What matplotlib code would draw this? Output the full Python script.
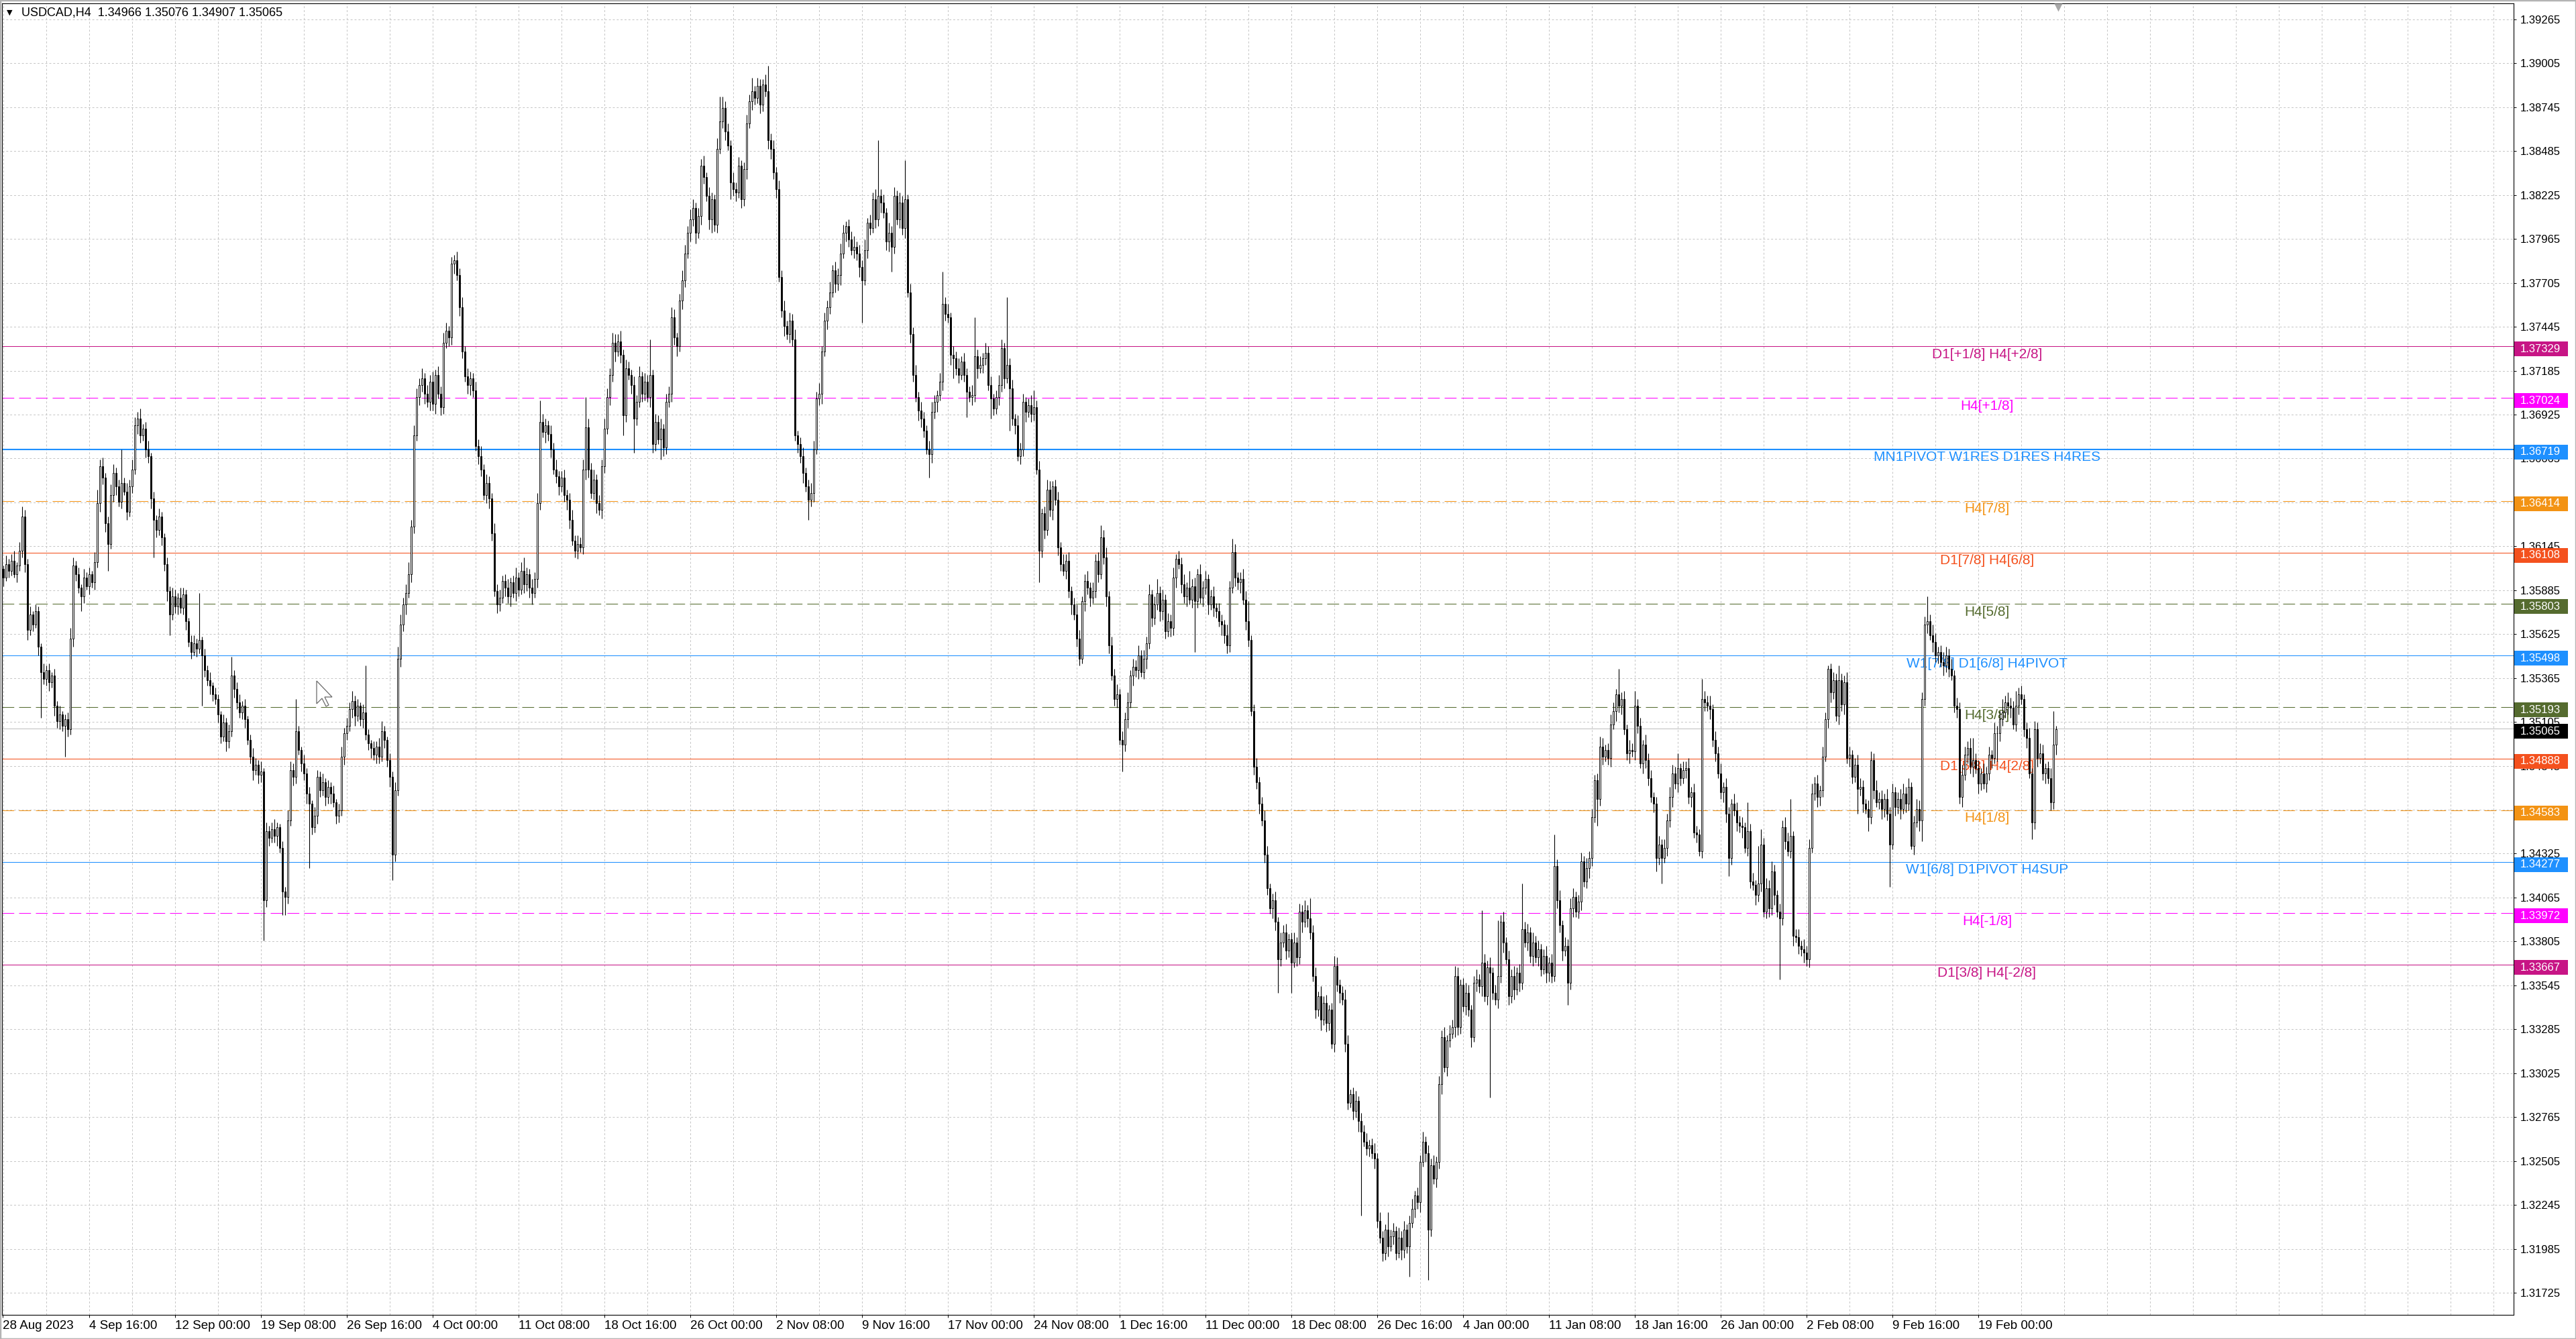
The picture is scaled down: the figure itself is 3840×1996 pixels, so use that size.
import numpy as np
import matplotlib
matplotlib.use("Agg")
import matplotlib.pyplot as plt
from matplotlib.patches import Rectangle, Polygon
from matplotlib.transforms import blended_transform_factory

plt.rcParams['font.family'] = ['Liberation Sans', 'DejaVu Sans']

W, H = 3840, 1996

title_text = "USDCAD,H4  1.34966 1.35076 1.34907 1.35065"
last_price = 1.35065

# H4 closes, in pips above 1.3000
first_open = 600
closes = [
    598, 601, 596, 604, 600, 606, 598, 603, 612, 632,
    604, 565, 574, 568, 576, 555, 540, 536, 541, 534,
    538, 520, 511, 515, 508, 512, 506, 560, 603, 598,
    590, 585, 596, 591, 598, 593, 605, 640, 662, 655,
    628, 616, 645, 658, 650, 641, 652, 647, 635, 650,
    660, 686, 690, 680, 684, 672, 668, 643, 630, 624,
    632, 620, 604, 588, 574, 585, 579, 584, 578, 586,
    570, 558, 552, 557, 554, 559, 550, 541, 535, 532,
    527, 524, 515, 502, 510, 499, 505, 538, 530, 522,
    516, 520, 512, 500, 490, 482, 485, 479, 481, 405,
    446, 442, 447, 443, 448, 436, 410, 407, 452, 482,
    478, 505, 494, 486, 480, 468, 462, 448, 455, 478,
    470, 475, 466, 472, 468, 463, 455, 458, 490, 504,
    508, 518, 523, 514, 520, 512, 516, 503, 498, 495,
    491, 496, 490, 505, 500, 488, 478, 432, 470, 548,
    568, 580, 587, 598, 626, 680, 703, 710, 714, 705,
    700, 712, 699, 716, 705, 697, 735, 742, 738, 782,
    784, 775, 756, 730, 715, 710, 714, 707, 674, 668,
    660, 645, 652, 643, 622, 588, 580, 584, 594, 590,
    585, 593, 587, 596, 589, 600, 592, 598, 590, 587,
    595, 640, 688, 682, 686, 681, 672, 660, 656, 650,
    655, 645, 642, 630, 618, 612, 616, 614, 660, 685,
    660, 646, 654, 640, 636, 662, 684, 703, 716, 735,
    730, 736, 728, 692, 720, 716, 710, 690, 700, 715,
    705, 712, 703, 716, 675, 688, 678, 684, 673, 700,
    705, 750, 738, 733, 760, 772, 788, 800, 808, 815,
    800, 810, 840, 833, 822, 808, 820, 805, 850, 866,
    874, 860, 852, 830, 826, 824, 840, 820, 838, 865,
    878, 884, 880, 887, 876, 888, 884, 855, 850, 836,
    826, 774, 754, 745, 740, 748, 737, 680, 675, 668,
    658, 650, 642, 646, 672, 702, 705, 730, 748, 756,
    765, 778, 770, 775, 788, 800, 804, 796, 790, 792,
    788, 780, 772, 790, 806, 803, 820, 808, 822, 818,
    812, 795, 800, 792, 822, 808, 818, 803, 820, 765,
    740, 716, 703, 695, 690, 683, 672, 669, 694, 700,
    704, 712, 758, 752, 750, 728, 726, 720, 716, 724,
    716, 706, 703, 704, 727, 720, 722, 726, 729, 710,
    702, 696, 703, 710, 732, 714, 722, 708, 690, 686,
    668, 672, 700, 694, 698, 693, 697, 660, 612, 634,
    624, 648, 636, 650, 642, 614, 604, 600, 606, 588,
    580, 574, 560, 548, 582, 594, 590, 584, 588, 606,
    598, 620, 608, 585, 556, 538, 524, 527, 500, 497,
    512, 522, 538, 543, 541, 550, 540, 548, 557, 586,
    572, 580, 587, 576, 583, 564, 570, 566, 596, 607,
    604, 592, 585, 590, 583, 591, 582, 598, 584, 590,
    595, 580, 585, 578, 576, 570, 568, 562, 556, 590,
    611, 596, 593, 595, 583, 570, 559, 517, 484, 475,
    462, 452, 432, 412, 400, 405, 392, 370, 380, 386,
    375, 382, 368, 380, 371, 398, 392, 399, 394, 386,
    360, 340, 348, 334, 344, 332, 340, 320, 366, 355,
    350, 346, 320, 285, 290, 280, 286, 274, 268, 262,
    258, 260, 255, 252, 215, 205, 196, 210, 200, 206,
    209, 196, 205, 198, 210, 200, 214, 222, 230, 226,
    250, 262, 255, 210, 248, 240, 250, 296, 324, 306,
    322, 326, 330, 360, 330, 355, 342, 350, 340, 324,
    356, 358, 354, 368, 348, 365, 362, 350, 346, 360,
    392, 380, 370, 348, 360, 352, 362, 356, 388, 380,
    386, 372, 380, 371, 376, 364, 372, 362, 368, 360,
    425, 405, 390, 375, 378, 356, 400, 407, 398, 404,
    428, 416, 424, 430, 454, 476, 465, 496, 490, 494,
    489, 509, 517, 527, 520, 524, 506, 492, 494, 493,
    520, 508, 486, 497, 488, 477, 466, 462, 430, 438,
    430, 436, 452, 466, 480, 474, 483, 477, 482, 483,
    466, 469, 445, 444, 434, 524, 522, 520, 518, 500,
    492, 480, 469, 472, 456, 430, 462, 458, 451, 449,
    448, 436, 446, 416, 414, 408, 415, 438, 398, 412,
    400, 422, 408, 398, 394, 448, 440, 434, 443, 384,
    383, 378, 376, 374, 370, 436, 468, 474, 466, 470,
    490, 512, 542, 528, 535, 514, 535, 521, 534, 489,
    491, 478, 485, 471, 472, 462, 459, 454, 488, 470,
    463, 465, 459, 465, 456, 438, 469, 460, 465, 459,
    468, 462, 472, 437, 451, 459, 452, 524, 568, 570,
    562, 558, 550, 552, 546, 544, 550, 542, 538, 520,
    518, 466, 479, 491, 495, 484, 488, 483, 474, 480,
    474, 480, 491, 489, 504, 504, 512, 516, 522, 520,
    519, 509, 520, 527, 524, 506, 501, 480, 451, 506,
    489, 492, 480, 483, 477, 463, 497, 506,
]

# wick above the body, pips
upper_wick = [
    3, 4, 2, 5, 3, 4, 6, 2, 5, 6,
    4, 3, 5, 2, 4, 3, 2, 5, 3, 4,
    2, 4, 3, 5, 2, 3, 4, 6, 5, 3,
    4, 2, 5, 3, 4, 2, 6, 8, 4, 5,
    3, 4, 6, 5, 3, 4, 20, 3, 5, 4,
    6, 5, 4, 6, 3, 4, 5, 2, 4, 3,
    5, 3, 2, 4, 3, 5, 4, 3, 6, 4,
    3, 2, 4, 5, 3, 28, 2, 4, 3, 5,
    2, 4, 3, 2, 5, 3, 4, 11, 3, 4,
    5, 3, 4, 2, 3, 5, 4, 3, 6, 2,
    5, 3, 4, 6, 3, 2, 4, 3, 6, 5,
    4, 19, 3, 2, 5, 3, 4, 2, 5, 4,
    3, 5, 2, 4, 3, 5, 2, 4, 6, 3,
    5, 4, 6, 3, 4, 2, 5, 28, 3, 2,
    4, 3, 5, 6, 3, 2, 4, 3, 5, 7,
    6, 4, 5, 7, 4, 6, 5, 4, 6, 3,
    5, 4, 6, 3, 5, 4, 6, 5, 3, 4,
    3, 5, 4, 6, 3, 5, 4, 3, 5, 4,
    6, 3, 5, 4, 3, 6, 4, 5, 3, 4,
    5, 3, 4, 6, 3, 5, 8, 4, 3, 5,
    4, 6, 13, 5, 4, 3, 5, 4, 6, 3,
    4, 5, 3, 4, 6, 3, 5, 4, 6, 18,
    5, 4, 6, 3, 5, 4, 6, 5, 4, 6,
    5, 4, 6, 3, 5, 4, 3, 5, 4, 6,
    3, 5, 4, 21, 3, 5, 4, 6, 3, 5,
    4, 6, 5, 3, 4, 6, 5, 4, 6, 5,
    3, 5, 4, 6, 3, 5, 4, 3, 6, 15,
    7, 4, 5, 3, 6, 4, 5, 3, 4, 5,
    4, 8, 3, 5, 4, 3, 6, 15, 4, 5,
    3, 5, 4, 6, 3, 5, 4, 6, 3, 4,
    5, 3, 4, 6, 5, 4, 6, 3, 5, 4,
    6, 3, 5, 4, 6, 5, 3, 4, 5, 6,
    3, 5, 4, 6, 3, 5, 4, 6, 33, 4,
    5, 3, 6, 4, 5, 3, 6, 4, 23, 3,
    5, 4, 6, 3, 5, 4, 3, 5, 6, 4,
    3, 5, 19, 4, 6, 3, 5, 4, 6, 3,
    5, 4, 3, 6, 23, 4, 5, 3, 6, 4,
    5, 3, 4, 6, 5, 3, 40, 4, 5, 3,
    6, 4, 5, 3, 4, 6, 10, 4, 5, 3,
    4, 6, 5, 3, 4, 5, 3, 6, 4, 5,
    3, 4, 6, 5, 3, 4, 6, 3, 5, 4,
    5, 7, 4, 6, 3, 5, 4, 6, 3, 5,
    4, 6, 3, 5, 4, 6, 3, 5, 4, 6,
    3, 5, 8, 4, 6, 3, 5, 4, 6, 3,
    5, 4, 6, 3, 10, 4, 5, 3, 6, 4,
    5, 3, 4, 6, 3, 5, 4, 3, 6, 4,
    8, 5, 3, 4, 6, 5, 12, 3, 4, 5,
    3, 4, 6, 5, 3, 4, 5, 3, 6, 4,
    5, 3, 4, 6, 3, 5, 4, 6, 3, 12,
    4, 5, 3, 6, 4, 5, 3, 4, 6, 5,
    3, 4, 6, 5, 3, 4, 6, 3, 5, 4,
    5, 3, 4, 6, 3, 5, 4, 3, 10, 4,
    5, 3, 6, 4, 5, 3, 4, 6, 3, 5,
    4, 6, 3, 5, 4, 6, 3, 5, 4, 6,
    3, 5, 4, 6, 5, 3, 4, 6, 5, 3,
    4, 6, 3, 31, 5, 4, 6, 3, 5, 33,
    4, 6, 3, 5, 4, 6, 3, 5, 27, 4,
    5, 3, 6, 4, 5, 3, 4, 6, 3, 5,
    19, 4, 6, 3, 5, 4, 6, 5, 3, 4,
    5, 3, 6, 4, 5, 3, 4, 6, 5, 3,
    4, 6, 5, 3, 15, 4, 5, 3, 6, 4,
    9, 4, 5, 3, 6, 4, 5, 3, 4, 5,
    3, 5, 4, 6, 5, 4, 9, 3, 5, 4,
    6, 3, 5, 4, 3, 12, 5, 4, 6, 3,
    5, 4, 6, 3, 5, 4, 3, 6, 5, 4,
    5, 3, 17, 4, 5, 3, 22, 9, 4, 6,
    5, 6, 4, 3, 5, 4, 6, 5, 22, 3,
    4, 5, 3, 6, 4, 5, 6, 4, 5, 3,
    6, 4, 2, 3, 5, 4, 9, 4, 4, 6,
    5, 3, 4, 6, 5, 4, 3, 5, 5, 4,
    6, 4, 5, 3, 6, 4, 5, 3, 4, 6,
    6, 4, 5, 3, 4, 6, 5, 4, 5, 15,
    4, 6, 5, 3, 4, 6, 5, 4, 6, 3,
    5, 4, 6, 5, 4, 6, 13, 4, 5, 3,
    6, 4, 5, 3, 6, 4, 5, 8, 4, 6,
    5, 4, 9, 4, 5, 3, 4, 6, 3, 5,
    4, 6, 5, 3, 4, 6, 20, 2,
]

# wick below the body, pips
lower_wick = [
    4, 3, 5, 2, 4, 3, 2, 5, 3, 4,
    5, 6, 3, 4, 2, 5, 27, 3, 4, 5,
    3, 6, 4, 5, 3, 18, 4, 3, 5, 4,
    3, 9, 4, 2, 5, 3, 4, 3, 5, 4,
    5, 16, 3, 4, 5, 3, 4, 2, 5, 3,
    4, 3, 5, 4, 3, 5, 4, 6, 22, 4,
    3, 5, 4, 6, 12, 3, 4, 5, 3, 4,
    5, 3, 4, 2, 5, 3, 30, 4, 3, 5,
    4, 3, 5, 4, 3, 6, 4, 3, 5, 4,
    3, 4, 5, 3, 4, 6, 3, 5, 4, 24,
    4, 5, 3, 4, 6, 3, 14, 11, 4, 3,
    5, 4, 3, 5, 4, 6, 38, 4, 3, 5,
    4, 3, 5, 4, 6, 3, 5, 4, 3, 5,
    4, 3, 5, 6, 3, 4, 5, 3, 4, 6,
    3, 5, 4, 3, 5, 4, 6, 15, 4, 3,
    5, 4, 6, 3, 5, 4, 3, 5, 4, 6,
    3, 5, 4, 6, 3, 5, 4, 3, 5, 4,
    6, 3, 5, 4, 3, 5, 6, 4, 3, 5,
    4, 3, 5, 6, 4, 3, 5, 4, 3, 5,
    4, 6, 3, 5, 4, 3, 5, 4, 6, 7,
    3, 5, 4, 3, 6, 4, 5, 3, 4, 5,
    3, 4, 6, 5, 3, 4, 5, 3, 4, 6,
    5, 3, 4, 6, 3, 5, 4, 3, 5, 4,
    6, 3, 5, 12, 4, 3, 5, 20, 4, 3,
    5, 4, 3, 6, 5, 4, 3, 12, 5, 4,
    3, 5, 4, 6, 3, 5, 4, 3, 5, 4,
    6, 3, 5, 4, 3, 6, 8, 4, 5, 3,
    4, 5, 3, 10, 4, 5, 3, 5, 4, 6,
    3, 5, 4, 3, 5, 4, 3, 5, 6, 4,
    5, 3, 4, 6, 3, 5, 4, 3, 5, 4,
    6, 3, 12, 4, 5, 3, 4, 6, 3, 5,
    4, 3, 5, 4, 6, 3, 5, 4, 3, 5,
    4, 6, 25, 3, 5, 4, 3, 5, 4, 6,
    3, 5, 6, 15, 4, 3, 5, 4, 6, 3,
    5, 4, 3, 6, 5, 4, 3, 14, 5, 4,
    6, 3, 5, 4, 3, 6, 12, 4, 5, 3,
    4, 15, 3, 5, 4, 6, 3, 5, 4, 3,
    12, 4, 3, 5, 4, 6, 3, 25, 4, 5,
    3, 5, 4, 6, 3, 5, 4, 3, 19, 4,
    5, 3, 4, 6, 3, 5, 4, 3, 5, 4,
    6, 3, 5, 4, 3, 6, 4, 5, 3, 4,
    5, 3, 4, 6, 5, 3, 4, 5, 3, 16,
    4, 5, 3, 6, 4, 5, 3, 4, 6, 3,
    5, 4, 3, 6, 5, 4, 3, 5, 4, 6,
    3, 5, 4, 6, 3, 5, 30, 4, 3, 5,
    4, 6, 3, 5, 4, 3, 6, 5, 5, 4,
    3, 5, 4, 6, 3, 5, 4, 3, 5, 4,
    6, 3, 5, 4, 3, 6, 5, 20, 4, 3,
    5, 4, 18, 3, 5, 4, 6, 3, 5, 4,
    3, 5, 4, 6, 3, 5, 4, 3, 5, 4,
    6, 3, 5, 4, 3, 5, 4, 6, 50, 3,
    4, 5, 3, 6, 4, 3, 5, 4, 6, 3,
    5, 4, 3, 6, 5, 4, 18, 3, 5, 4,
    6, 3, 5, 30, 4, 3, 5, 4, 6, 3,
    5, 4, 3, 6, 5, 4, 3, 5, 4, 6,
    3, 5, 4, 6, 3, 5, 74, 4, 3, 5,
    4, 6, 3, 5, 4, 6, 3, 5, 4, 3,
    5, 4, 6, 3, 5, 4, 3, 6, 5, 4,
    3, 5, 4, 6, 3, 13, 4, 5, 3, 4,
    5, 3, 4, 6, 5, 3, 16, 4, 5, 3,
    4, 5, 3, 6, 4, 5, 3, 4, 6, 3,
    5, 4, 3, 6, 5, 4, 3, 5, 8, 4,
    15, 3, 5, 4, 6, 3, 5, 4, 3, 5,
    4, 6, 3, 5, 3, 4, 5, 3, 6, 4,
    5, 3, 4, 6, 5, 11, 4, 3, 5, 4,
    6, 3, 5, 4, 3, 6, 4, 5, 3, 4,
    5, 4, 6, 3, 36, 4, 5, 3, 4, 6,
    3, 5, 4, 6, 4, 5, 3, 4, 6, 5,
    4, 3, 5, 6, 4, 3, 5, 4, 6, 3,
    5, 4, 3, 15, 4, 5, 3, 8, 4, 5,
    3, 4, 6, 5, 4, 25, 3, 5, 4, 6,
    3, 5, 4, 2, 5, 3, 6, 12, 4, 5,
    3, 6, 4, 5, 3, 6, 4, 5, 3, 4,
    5, 4, 6, 3, 5, 4, 6, 3, 6, 4,
    3, 5, 4, 6, 3, 17, 5, 4, 3, 5,
    6, 3, 4, 5, 3, 4, 6, 3, 10, 4,
    5, 3, 4, 6, 3, 5, 4, 6,
]

first_date_label = "28 Aug 2023"
date_labels = ["4 Sep 16:00", "12 Sep 00:00", "19 Sep 08:00", "26 Sep 16:00",
               "4 Oct 00:00", "11 Oct 08:00", "18 Oct 16:00", "26 Oct 00:00",
               "2 Nov 08:00", "9 Nov 16:00", "17 Nov 00:00", "24 Nov 08:00",
               "1 Dec 16:00", "11 Dec 00:00", "18 Dec 08:00", "26 Dec 16:00",
               "4 Jan 00:00", "11 Jan 08:00", "18 Jan 16:00", "26 Jan 00:00",
               "2 Feb 08:00", "9 Feb 16:00", "19 Feb 00:00"]

price_ticks = [1.39265, 1.39005, 1.38745, 1.38485, 1.38225, 1.37965, 1.37705,
               1.37445, 1.37185, 1.36925, 1.36665, 1.36405, 1.36145, 1.35885,
               1.35625, 1.35365, 1.35105, 1.34845, 1.34585, 1.34325, 1.34065,
               1.33805, 1.33545, 1.33285, 1.33025, 1.32765, 1.32505, 1.32245,
               1.31985, 1.31725]

level_prices = [1.37329, 1.37024, 1.36719, 1.36414, 1.36108, 1.35803, 1.35498,
                1.35193, 1.34888, 1.34583, 1.34277, 1.33972, 1.33667]
level_names = ["D1[+1/8] H4[+2/8]", "H4[+1/8]", "MN1PIVOT W1RES D1RES H4RES",
               "H4[7/8]", "D1[7/8] H4[6/8]", "H4[5/8]", "W1[7/8] D1[6/8] H4PIVOT",
               "H4[3/8]", "D1[5/8] H4[2/8]", "H4[1/8]", "W1[6/8] D1PIVOT H4SUP",
               "H4[-1/8]", "D1[3/8] H4[-2/8]"]

MVR, MAG, DB = '#c71585', '#ff00ff', '#1e90ff'
ORG, ORR, OLV = '#f39314', '#f4511e', '#556b2f'
level_colors = [MVR, MAG, DB, ORG, ORR, OLV, DB, OLV, ORR, ORG, DB, MAG, MVR]
level_dashed = [False, True, False, True, False, True, False, True, False, True, False, True, False]
level_lw = [0.75, 0.75, 1.5, 0.75, 0.75, 0.75, 0.75, 0.75, 0.75, 0.75, 0.75, 0.75, 0.75]

# ---- build OHLC
c = np.array(closes, dtype=float)
o = np.concatenate([[first_open], c[:-1]])
hi = np.maximum(o, c) + np.array(upper_wick)
lo = np.minimum(o, c) - np.array(lower_wick)
c, o, hi, lo = [1.3 + v / 10000.0 for v in (c, o, hi, lo)]
x = np.arange(len(closes))

fig = plt.figure(figsize=(W / 100, H / 100), dpi=100, facecolor='white')
ax = fig.add_axes([3 / W, 1 - 1960 / H, (3747 - 3) / W, (1960 - 5) / H])
ax.set_facecolor('white')

grid_kw = dict(color='#c4c4c4', lw=0.7, ls=(0, (3, 3)), zorder=0)
for gx in np.arange(2, 940, 16):
    ax.axvline(gx, **grid_kw)
for p in price_ticks:
    ax.axhline(p, **grid_kw)

# levels
label_bar = 741.25
for p, name, col, dsh, lw in zip(level_prices, level_names, level_colors, level_dashed, level_lw):
    ax.axhline(p, color=col, lw=lw, ls=(0, (17, 7)) if dsh else '-', zorder=1)
    ax.annotate(name, (label_bar, p), xytext=(0, -12), textcoords='offset pixels',
                ha='center', va='center', color=col, fontsize=15, zorder=1.5)
ax.axhline(last_price, color='#c0c0c0', lw=0.75, zorder=1)

# candles
ax.vlines(x, lo, hi, color='black', lw=0.8, zorder=2)
bull = c >= o
ax.bar(x[bull], (c - o)[bull], bottom=o[bull], width=0.6, color='white',
       edgecolor='black', linewidth=0.65, zorder=3)
ax.bar(x[~bull], (o - c)[~bull], bottom=c[~bull], width=0.6, color='black',
       edgecolor='black', linewidth=0.65, zorder=3)

ax.set_xlim(1.5, 937.5)
ax.set_ylim(1.315938, 1.393603)

# axes styling
for s in ax.spines.values():
    s.set_color('black')
    s.set_linewidth(0.8)
ax.yaxis.tick_right()
ax.set_yticks(price_ticks)
ax.set_yticklabels([f"{p:.5f}" for p in price_ticks])
ax.tick_params(axis='y', length=3, width=0.7, pad=4.2, labelsize=12, colors='black')

tick_bars = [1.75] + list(np.arange(34, 34 + 32 * len(date_labels), 32))
ax.set_xticks(tick_bars)
ax.set_xticklabels([first_date_label] + date_labels, ha='left')
ax.tick_params(axis='x', length=3, width=0.7, pad=3, labelsize=13.5, colors='black')

# price boxes on the right scale (sit slightly below their line)
trans = blended_transform_factory(fig.transFigure, ax.transData)
px_price = 1 / 25172
half_h = 11 * px_price
box_items = list(zip(level_prices, level_colors)) + [(last_price, 'black')]
for p, col in box_items:
    yc = p - 4 * px_price
    ax.add_patch(Rectangle((3748 / W, yc - half_h), 80 / W, 2 * half_h, transform=trans,
                           facecolor=col, edgecolor='none', clip_on=False, zorder=6))
    ax.text(3757 / W, yc, f"{p:.5f}", transform=trans, color='white', fontsize=12,
            ha='left', va='center', clip_on=False, zorder=7)

# title
fig.text(10 / W, 1 - 19 / H, "\u25BC", fontsize=8, ha='left', va='center',
         family=['DejaVu Sans'])
fig.text(32 / W, 1 - 19 / H, title_text, fontsize=13, ha='left', va='center')

# chart-shift marker at the top
ax.plot([767.75], [0.997], marker='v', ms=8, color='#a8a8a8', mec='none',
        transform=blended_transform_factory(ax.transData, ax.transAxes), clip_on=False, zorder=8)

# mouse cursor
cur = np.array([(0, 0), (0, 34), (8, 26), (14, 38), (18, 36), (12, 24), (23, 24)], dtype=float)
cur_fig = np.column_stack([(472 + cur[:, 0]) / W, 1 - (1015 + cur[:, 1]) / H])
fig.add_artist(Polygon(cur_fig, closed=True, transform=fig.transFigure,
                       facecolor='white', edgecolor='#6a6a6a', lw=0.9, zorder=9))

# window frame
fig.add_artist(Rectangle((0, 0), 1, 1, transform=fig.transFigure, fill=False,
                         edgecolor='#b4b4b4', lw=2.5, zorder=10))

fig.savefig("out.png", dpi=100, facecolor='white')
